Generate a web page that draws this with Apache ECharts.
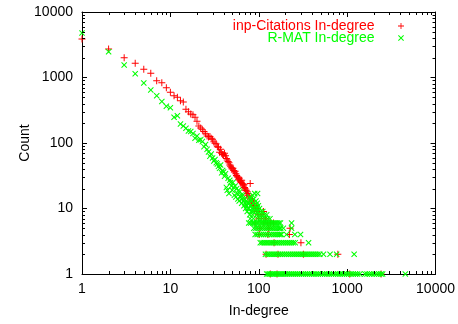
<!DOCTYPE html>
<html><head><meta charset="utf-8">
<script src="https://cdn.jsdelivr.net/npm/echarts@6/dist/echarts.min.js"></script>
<style>html,body{margin:0;padding:0;background:#fff}#c{width:458px;height:324px}</style>
</head><body><div id="c"></div>
<script>
// ---- data ----
const seriesNames = ['inp-Citations In-degree', 'R-MAT In-degree'];
const xTickLabels = ['1', '10', '100', '1000', '10000'];
const yTickLabels = ['1', '10', '100', '1000', '10000'];

// counts for in-degree 1..76 (one point per degree)
const citHeadCounts = [3870,2720,2005,1650,1335,1160,893,832,698,594,
  527,499,443,423,327,301,277,270,247,214,
  182,170,160,150,138,128,124,126,118,114,
  104,99,97,88,86,72,80,70,67,66,
  70,64,58,55,52,50,46,44,42,40,
  41,38,36,37,34,32,31,30,28,29,
  27,26,25,27,24,23,22,23,21,20,
  19,19,16,18,17,16];
// tail: for each count, the in-degrees having that count
const citTailCounts = [24,15,14,13,12,11,10,9,8,7,6,5,4,3,2,1];
const citTailDegrees = [[80],[78],[81],[83,85],[87],[88,90],[92,96],[95,113],[98,108],[100,119],
  [91,114,125,135,147],[103,130,226],[101,127,222],[149,300],[121,165,320,785],[135,161,1070,2420]];

const rmatHeadCounts = [4780,2480,1550,1140,824,645,527,430,365,346,
  247,261,195,182,168,152,150,140,118,128,
  110,112,105,88,95,80,73,63,68,59,
  53,56,50,48,44,41,46,35,38,36,
  31,34,21,19,29,17,27,25,22,19,
  25,21,16,22,15,20,17,14,19,13,
  18,15,16,12,14,16,13,11,14,12,
  10,13,11,9,12,10];
const rmatTailCounts = [17,16,15,14,13,12,11,10,9,8,7,6,5,4,3,2,1];
const rmatTailDegrees = [
  [90,97],[85],[79],[81,88],[83,93],[78,87,96],[80,91,99],[77,84,89,95,102],
  [82,86,92,98,105,111],[79,85,94,101,108,116,123],[80,87,97,103,110,118,126,134],
  [77,81,86,90,95,100,106,112,118,124,131,138,145,153,161,169,176,235],
  [88,93,99,104,110,116,122,128,135,142,149,157,165,172,177,190,235],
  [91,96,102,107,113,119,125,132,139,146,153,161,169,175,181,206,256,297],
  [104,109,115,121,127,134,141,148,156,164,172,181,190,200,210,221,233,245,258,366],
  [119,125,131,138,145,152,160,168,177,186,196,206,217,228,240,252,265,279,294,309,325,342,360,379,399,420,442,465,490,540,640,760,1200],
  [123,128,133,140,146,152,159,167,175,183,192,201,211,222,234,246,259,273,288,304,320,338,356,376,398,420,445,470,498,527,558,590,625,662,700,742,786,832,880,930,985,1040,1100,1170,1240,1310,1390,1590,1680,1790,1900,2020,2150,2290,2420,2520,4550]
];

// minor tick structure for the log axes
const minorMultipliers = [2,3,4,5,6,7,8,9];
const decades = [1,10,100,1000];

// ---- build ----
function buildPoints(head, tailCounts, tailDegrees) {
  const pts = head.map((c, i) => [i + 1, c]);
  tailCounts.forEach((c, k) => tailDegrees[k].forEach(d => pts.push([d, c])));
  return pts;
}
const citPoints = buildPoints(citHeadCounts, citTailCounts, citTailDegrees);
const rmatPoints = buildPoints(rmatHeadCounts, rmatTailCounts, rmatTailDegrees);

const minorVals = [];
decades.forEach(d => minorMultipliers.forEach(m => minorVals.push(d * m)));
const minorData = [];
minorVals.forEach(v => { minorData.push([v, 1, 0]); minorData.push([1, v, 1]); });

const FONT = 'Liberation Sans, Arial, sans-serif';
const PLUS = 'path://M4.3,0H5.7V4.3H10V5.7H5.7V10H4.3V5.7H0V4.3H4.3Z';
const CROSS = 'path://M0,1.2L1.2,0L5,3.8L8.8,0L10,1.2L6.2,5L10,8.8L8.8,10L5,6.2L1.2,10L0,8.8L3.8,5Z';

function labelFmt(list) {
  return function (v) {
    const i = Math.round(Math.log10(v));
    return list[i] !== undefined ? list[i] : '';
  };
}

const axisCommon = {
  type: 'log', logBase: 10, min: 1, max: 10000,
  axisLine: { show: true, lineStyle: { color: '#000', width: 1 } },
  axisTick: { show: true, inside: true, length: 5, lineStyle: { color: '#000' } },
  splitLine: { show: false },
  minorTick: { show: false }
};

const chart = echarts.init(document.getElementById('c'), null, { renderer: 'canvas' });
chart.setOption({
  animation: false,
  backgroundColor: '#fff',
  grid: { left: 82, right: 20, top: 12, bottom: 50, containLabel: false },
  legend: {
    right: 49, top: 14, orient: 'vertical', align: 'right',
    itemWidth: 43, itemHeight: 6, itemGap: -2,
    symbolKeepAspect: true,
    textStyle: { fontFamily: FONT, fontSize: 14, lineHeight: 14 },
    data: [
      { name: seriesNames[0], textStyle: { color: '#ff0000' } },
      { name: seriesNames[1], textStyle: { color: '#00ff00' } }
    ],
    selectedMode: false
  },
  xAxis: [
    Object.assign({}, axisCommon, {
      position: 'bottom',
      name: 'In-degree', nameLocation: 'middle', nameGap: 30, nameMoveOverlap: false,
      nameTextStyle: { fontFamily: FONT, fontSize: 14, color: '#000' },
      axisLabel: { fontFamily: FONT, fontSize: 14, color: '#000', margin: 8, formatter: labelFmt(xTickLabels) }
    }),
    Object.assign({}, axisCommon, { position: 'top', axisLabel: { show: false } })
  ],
  yAxis: [
    Object.assign({}, axisCommon, {
      position: 'left',
      name: 'Count', nameLocation: 'middle', nameGap: 50, nameMoveOverlap: false,
      nameTextStyle: { fontFamily: FONT, fontSize: 14, color: '#000' },
      axisLabel: { fontFamily: FONT, fontSize: 14, color: '#000', margin: 9, formatter: labelFmt(yTickLabels) }
    }),
    Object.assign({}, axisCommon, { position: 'right', axisLabel: { show: false } })
  ],
  series: [
    {
      name: seriesNames[0], type: 'scatter', data: citPoints,
      symbol: PLUS, symbolSize: 7, symbolKeepAspect: true,
      itemStyle: { color: '#ff0000', opacity: 1 }, z: 3
    },
    {
      name: seriesNames[1], type: 'scatter', data: rmatPoints,
      symbol: CROSS, symbolSize: 6, symbolKeepAspect: true,
      itemStyle: { color: '#00ff00', opacity: 1 }, z: 4
    },
    {
      name: 'minor-ticks', type: 'custom', data: minorData, silent: true, z: 5,
      clip: false,
      renderItem: function (params, api) {
        const cs = params.coordSys;
        const kind = api.value(2);
        const st = { stroke: '#000', lineWidth: 1 };
        if (kind === 0) {
          const x = Math.round(api.coord([api.value(0), 1])[0]) + 0.5;
          const yb = cs.y + cs.height, yt = cs.y;
          return { type: 'group', children: [
            { type: 'line', shape: { x1: x, y1: yb, x2: x, y2: yb - 3 }, style: st },
            { type: 'line', shape: { x1: x, y1: yt, x2: x, y2: yt + 3 }, style: st }
          ] };
        } else {
          const y = Math.round(api.coord([1, api.value(1)])[1]) + 0.5;
          const xl = cs.x, xr = cs.x + cs.width;
          return { type: 'group', children: [
            { type: 'line', shape: { x1: xl, y1: y, x2: xl + 3, y2: y }, style: st },
            { type: 'line', shape: { x1: xr, y1: y, x2: xr - 3, y2: y }, style: st }
          ] };
        }
      }
    }
  ]
});
</script>
</body></html>
